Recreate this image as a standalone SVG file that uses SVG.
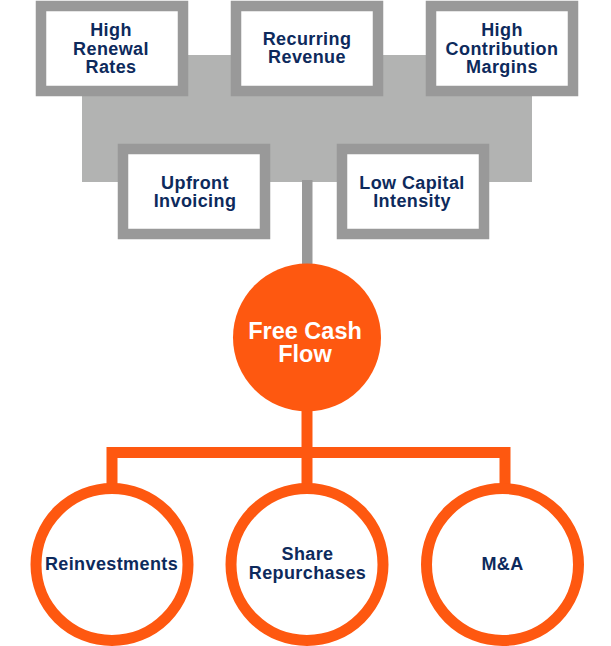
<svg xmlns="http://www.w3.org/2000/svg" width="611" height="646" viewBox="0 0 611 646">
<style>
.box{fill:#ffffff;stroke:#999999;stroke-width:10.5}
.t{font-family:"Liberation Sans",Arial,sans-serif;font-weight:bold;font-size:18px;fill:#0d2a5c;text-anchor:middle;letter-spacing:0.4px}
.w{font-family:"Liberation Sans",Arial,sans-serif;font-weight:bold;font-size:23.5px;fill:#ffffff;text-anchor:middle}
.oc{fill:#ffffff;stroke:#fe5810;stroke-width:11}
.ol{fill:none;stroke:#fe5810;stroke-width:11;stroke-linejoin:miter}
</style>
<rect width="611" height="646" fill="#ffffff"/>
<g id="connectors">
<rect x="82" y="55" width="450" height="127" fill="#b2b3b2"/>
<rect x="302" y="180" width="10.5" height="86" fill="#999999"/>
<path class="ol" d="M307,408 V486"/>
<path class="ol" d="M112,486 V452.5 H505 V486"/>
</g>
<g id="high-renewal">
<rect class="box" x="41" y="6" width="142" height="85"/>
<text class="t" x="111" y="36">High</text>
<text class="t" x="111" y="54.5">Renewal</text>
<text class="t" x="111" y="72.5">Rates</text>
</g>
<g id="recurring-revenue">
<rect class="box" x="236" y="6" width="142" height="85"/>
<text class="t" x="307" y="45">Recurring</text>
<text class="t" x="307" y="63">Revenue</text>
</g>
<g id="high-contribution">
<rect class="box" x="431" y="6" width="142" height="85"/>
<text class="t" x="502" y="36">High</text>
<text class="t" x="502" y="54.5">Contribution</text>
<text class="t" x="502" y="72.5">Margins</text>
</g>
<g id="upfront-invoicing">
<rect class="box" x="123" y="149" width="142" height="85"/>
<text class="t" x="195" y="188.5">Upfront</text>
<text class="t" x="195" y="206.5">Invoicing</text>
</g>
<g id="low-capital">
<rect class="box" x="342" y="149" width="142" height="85"/>
<text class="t" x="412" y="188.5">Low Capital</text>
<text class="t" x="412" y="206.5">Intensity</text>
</g>
<g id="free-cash-flow">
<circle cx="307" cy="337.5" r="74" fill="#fe5810"/>
<text class="w" x="305" y="338.5">Free Cash</text>
<text class="w" x="305" y="362">Flow</text>
</g>
<g id="reinvestments">
<circle class="oc" cx="112" cy="564.5" r="76"/>
<text class="t" x="111.5" y="570">Reinvestments</text>
</g>
<g id="share-repurchases">
<circle class="oc" cx="307" cy="564.5" r="76"/>
<text class="t" x="307.5" y="560">Share</text>
<text class="t" x="307.5" y="578.5">Repurchases</text>
</g>
<g id="ma">
<circle class="oc" cx="502.5" cy="564.5" r="76"/>
<text class="t" x="502.5" y="570">M&amp;A</text>
</g>
</svg>
